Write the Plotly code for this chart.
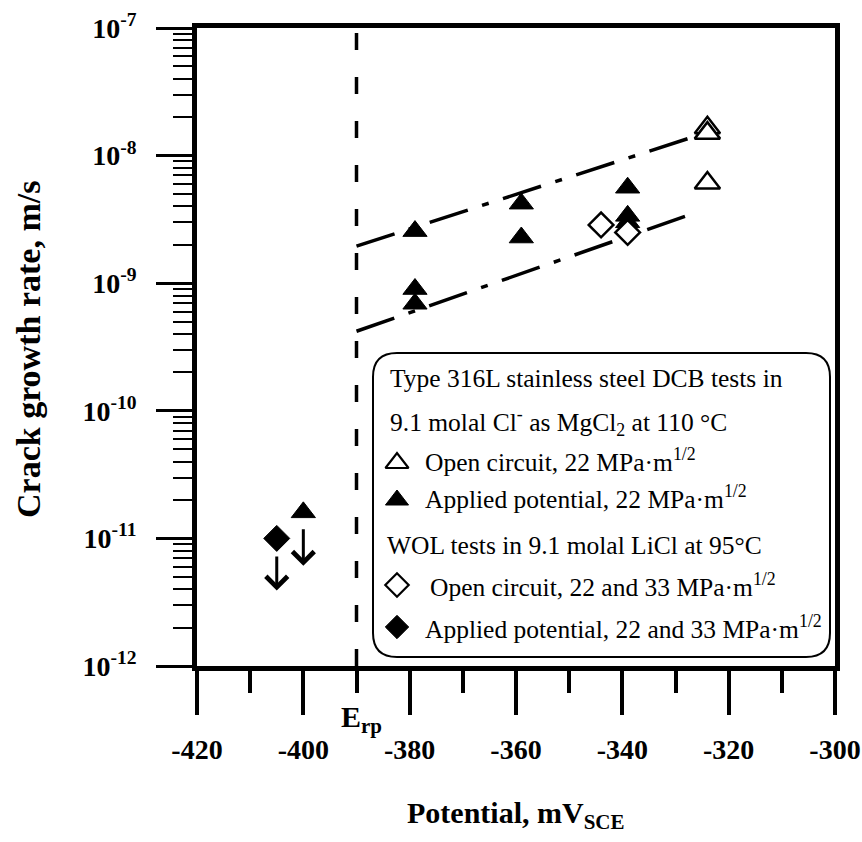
import math
import plotly.graph_objects as go

# ---------------- data ----------------
dcb_open_x = [-324, -324, -324]
dcb_open_y = [1.65e-8, 1.5e-8, 6.1e-9]

dcb_applied_x = [-400, -379, -379, -379, -359, -359, -339, -339, -339]
dcb_applied_y = [1.6e-11, 2.56e-9, 9.0e-10, 6.9e-10, 4.2e-9, 2.28e-9, 5.6e-9, 3.37e-9, 3.0e-9]

wol_open_x = [-344, -339]
wol_open_y = [2.86e-9, 2.5e-9]

wol_applied_x = [-405]
wol_applied_y = [1.0e-11]

# "less than" arrows under the lowest points
arrow_x = [-405, -400]
arrow_tail_y = [7.4e-12, 1.21e-11]
arrow_tip_y = [3.9e-12, 6.1e-12]

# trend (dash-dot) lines
upper_x = [-390, -324.5]
upper_y = [1.95e-9, 1.5e-8]
lower_x = [-390, -326]
lower_y = [4.2e-10, 3.6e-9]

erp_x = -390  # repassivation potential

x_range = [-420, -300]
x_tickvals = [-420, -400, -380, -360, -340, -320, -300]
x_ticktext = ["-420", "-400", "-380", "-360", "-340", "-320", "-300"]
y_decades = [-12, -11, -10, -9, -8, -7]
y_ticktext = ["10<sup>-12</sup>", "10<sup>-11</sup>", "10<sup>-10</sup>",
              "10<sup>-9</sup>", "10<sup>-8</sup>", "10<sup>-7</sup>"]

legend_lines = [
    "Type 316L stainless steel DCB tests in",
    "9.1 molal Cl<sup>-</sup> as MgCl<sub>2</sub> at 110 °C",
    "Open circuit, 22 MPa·m<sup>1/2</sup>",
    "Applied potential, 22 MPa·m<sup>1/2</sup>",
    "WOL tests in 9.1 molal LiCl at 95°C",
    "Open circuit, 22 and 33 MPa·m<sup>1/2</sup>",
    "Applied potential, 22 and 33 MPa·m<sup>1/2</sup>",
]

# ---------------- layout geometry ----------------
W, H = 862, 842
# plot-area edges in window pixels
L, R, T, B = 197, 835, 28, 666
FONT = "Liberation Serif"


def PX(px):
    """window pixel x -> paper x"""
    return (px - L) / (R - L)


def PY(py):
    """window pixel y -> paper y"""
    return (B - py) / (B - T)


fig = go.Figure()

# trend lines
dashdot = "40px,15px,7px,15px"
for xs, ys in [(upper_x, upper_y), (lower_x, lower_y)]:
    fig.add_trace(go.Scatter(x=xs, y=ys, mode="lines",
                             line=dict(color="black", width=3.5, dash=dashdot),
                             showlegend=False, hoverinfo="skip"))

fig.add_trace(go.Scatter(x=dcb_open_x, y=dcb_open_y, mode="markers",
                         marker=dict(symbol="triangle-up", size=22, color="white",
                                     line=dict(color="black", width=2.5)),
                         name="DCB open circuit", showlegend=False))
fig.add_trace(go.Scatter(x=dcb_applied_x, y=dcb_applied_y, mode="markers",
                         marker=dict(symbol="triangle-up", size=21, color="black",
                                     line=dict(color="black", width=1)),
                         name="DCB applied potential", showlegend=False))
fig.add_trace(go.Scatter(x=wol_open_x, y=wol_open_y, mode="markers",
                         marker=dict(symbol="diamond", size=19, color="white",
                                     line=dict(color="black", width=2.5)),
                         name="WOL open circuit", showlegend=False))
fig.add_trace(go.Scatter(x=wol_applied_x, y=wol_applied_y, mode="markers",
                         marker=dict(symbol="diamond", size=20, color="black",
                                     line=dict(color="black", width=1)),
                         name="WOL applied potential", showlegend=False))

# legend symbols on an overlay axis in plot-area units
leg_sym_x = [PX(397)] * 4
leg_sym_y = [PY(463), PY(500), PY(585), PY(627)]
leg_styles = [
    dict(symbol="triangle-up", size=20, color="white", line=dict(color="black", width=2.2)),
    dict(symbol="triangle-up", size=20, color="black", line=dict(color="black", width=1)),
    dict(symbol="diamond", size=18, color="white", line=dict(color="black", width=2.2)),
    dict(symbol="diamond", size=18, color="black", line=dict(color="black", width=1)),
]
for sx, sy, st in zip(leg_sym_x, leg_sym_y, leg_styles):
    fig.add_trace(go.Scatter(x=[sx], y=[sy], mode="markers", marker=st,
                             xaxis="x2", yaxis="y2", showlegend=False, hoverinfo="skip"))

# dashed E_rp line
fig.add_shape(type="line", x0=erp_x, x1=erp_x, xref="x", yref="paper", y0=0, y1=1,
              line=dict(color="black", width=3.5, dash="17px,27px"), layer="below")

# legend box with rounded corners
bl, bt, br, bb, rr = 373, 353, 830, 657, 24
path = (f"M {PX(bl+rr)},{PY(bt)} L {PX(br-rr)},{PY(bt)} Q {PX(br)},{PY(bt)} {PX(br)},{PY(bt+rr)} "
        f"L {PX(br)},{PY(bb-rr)} Q {PX(br)},{PY(bb)} {PX(br-rr)},{PY(bb)} "
        f"L {PX(bl+rr)},{PY(bb)} Q {PX(bl)},{PY(bb)} {PX(bl)},{PY(bb-rr)} "
        f"L {PX(bl)},{PY(bt+rr)} Q {PX(bl)},{PY(bt)} {PX(bl+rr)},{PY(bt)} Z")
fig.add_shape(type="path", path=path, xref="paper", yref="paper",
              line=dict(color="black", width=2), fillcolor="rgba(0,0,0,0)")

# legend text
leg_text_x = [388, 388, 423, 423, 385, 428, 423]
leg_text_y = [378, 422, 460, 497, 545, 585, 627]
for txt, tx, ty in zip(legend_lines, leg_text_x, leg_text_y):
    fig.add_annotation(text=txt, x=PX(tx), y=PY(ty), xref="paper", yref="paper",
                       xanchor="left", yanchor="middle", showarrow=False,
                       font=dict(family=FONT, size=25.5, color="black"))

# arrows
for ax_, tail, tip in zip(arrow_x, arrow_tail_y, arrow_tip_y):
    fig.add_annotation(x=ax_, y=math.log10(tip), ax=ax_, ay=math.log10(tail),
                       xref="x", yref="y", axref="x", ayref="y", text="",
                       showarrow=True, arrowhead=4, arrowsize=1.4, arrowwidth=3,
                       arrowcolor="black", standoff=0, startstandoff=0)

# E_rp label
fig.add_annotation(text="<b>E<sub>rp</sub></b>", x=PX(361), y=PY(719), xref="paper", yref="paper",
                   xanchor="center", yanchor="middle", showarrow=False,
                   font=dict(family=FONT, size=30, color="black"))

# axis titles
fig.add_annotation(text="<b>Crack growth rate, m/s</b>", x=PX(28), y=PY(350),
                   xref="paper", yref="paper", textangle=-90, showarrow=False,
                   xanchor="center", yanchor="middle",
                   font=dict(family=FONT, size=34, color="black"))
fig.add_annotation(text="<b>Potential, mV<sub>SCE</sub></b>", x=PX(516), y=PY(815),
                   xref="paper", yref="paper", showarrow=False,
                   xanchor="center", yanchor="middle",
                   font=dict(family=FONT, size=30, color="black"))

minor_y = [m * 10 ** d for d in range(-12, -7) for m in range(2, 10)]

fig.update_layout(
    width=W, height=H,
    margin=dict(l=L, r=W - R, t=T, b=H - B, autoexpand=False),
    paper_bgcolor="white", plot_bgcolor="white",
    showlegend=False,
    xaxis=dict(range=x_range, tickmode="array", tickvals=x_tickvals, ticktext=x_ticktext,
               ticks="outside", ticklen=44, automargin=False,
               tickwidth=3.5, tickcolor="black", showline=True, linewidth=4.5,
               linecolor="black", mirror=True, showgrid=False, zeroline=False,
               tickfont=dict(family=FONT, size=28, color="black", weight="bold"),
               ticklabelstandoff=11, ticklabeloverflow="allow",
               minor=dict(dtick=10, tick0=-420, ticks="outside", ticklen=22,
                          tickwidth=3.5, tickcolor="black", showgrid=False)),
    yaxis=dict(type="log", range=[-12, -7], tickmode="array",
               tickvals=[10 ** d for d in y_decades], ticktext=y_ticktext,
               ticks="outside", ticklen=36, tickwidth=3, tickcolor="black", automargin=False,
               showline=True, linewidth=4.5, linecolor="black", mirror=True,
               showgrid=False, zeroline=False,
               tickfont=dict(family=FONT, size=28, color="black", weight="bold"),
               ticklabelstandoff=14, ticklabeloverflow="allow",
               minor=dict(tickmode="array", tickvals=minor_y, ticks="outside",
                          ticklen=19, tickwidth=2, tickcolor="black", showgrid=False)),
    xaxis2=dict(range=[0, 1], overlaying="x", visible=False, fixedrange=True),
    yaxis2=dict(range=[0, 1], overlaying="y", visible=False, fixedrange=True),
)

# remove the default 8px page margin so the figure fills the 862x842 window exactly
fig.write_html("out.html",
               config={"displayModeBar": False},
               post_script="document.body.style.margin='0px';"
                           "document.body.style.overflow='hidden';")
